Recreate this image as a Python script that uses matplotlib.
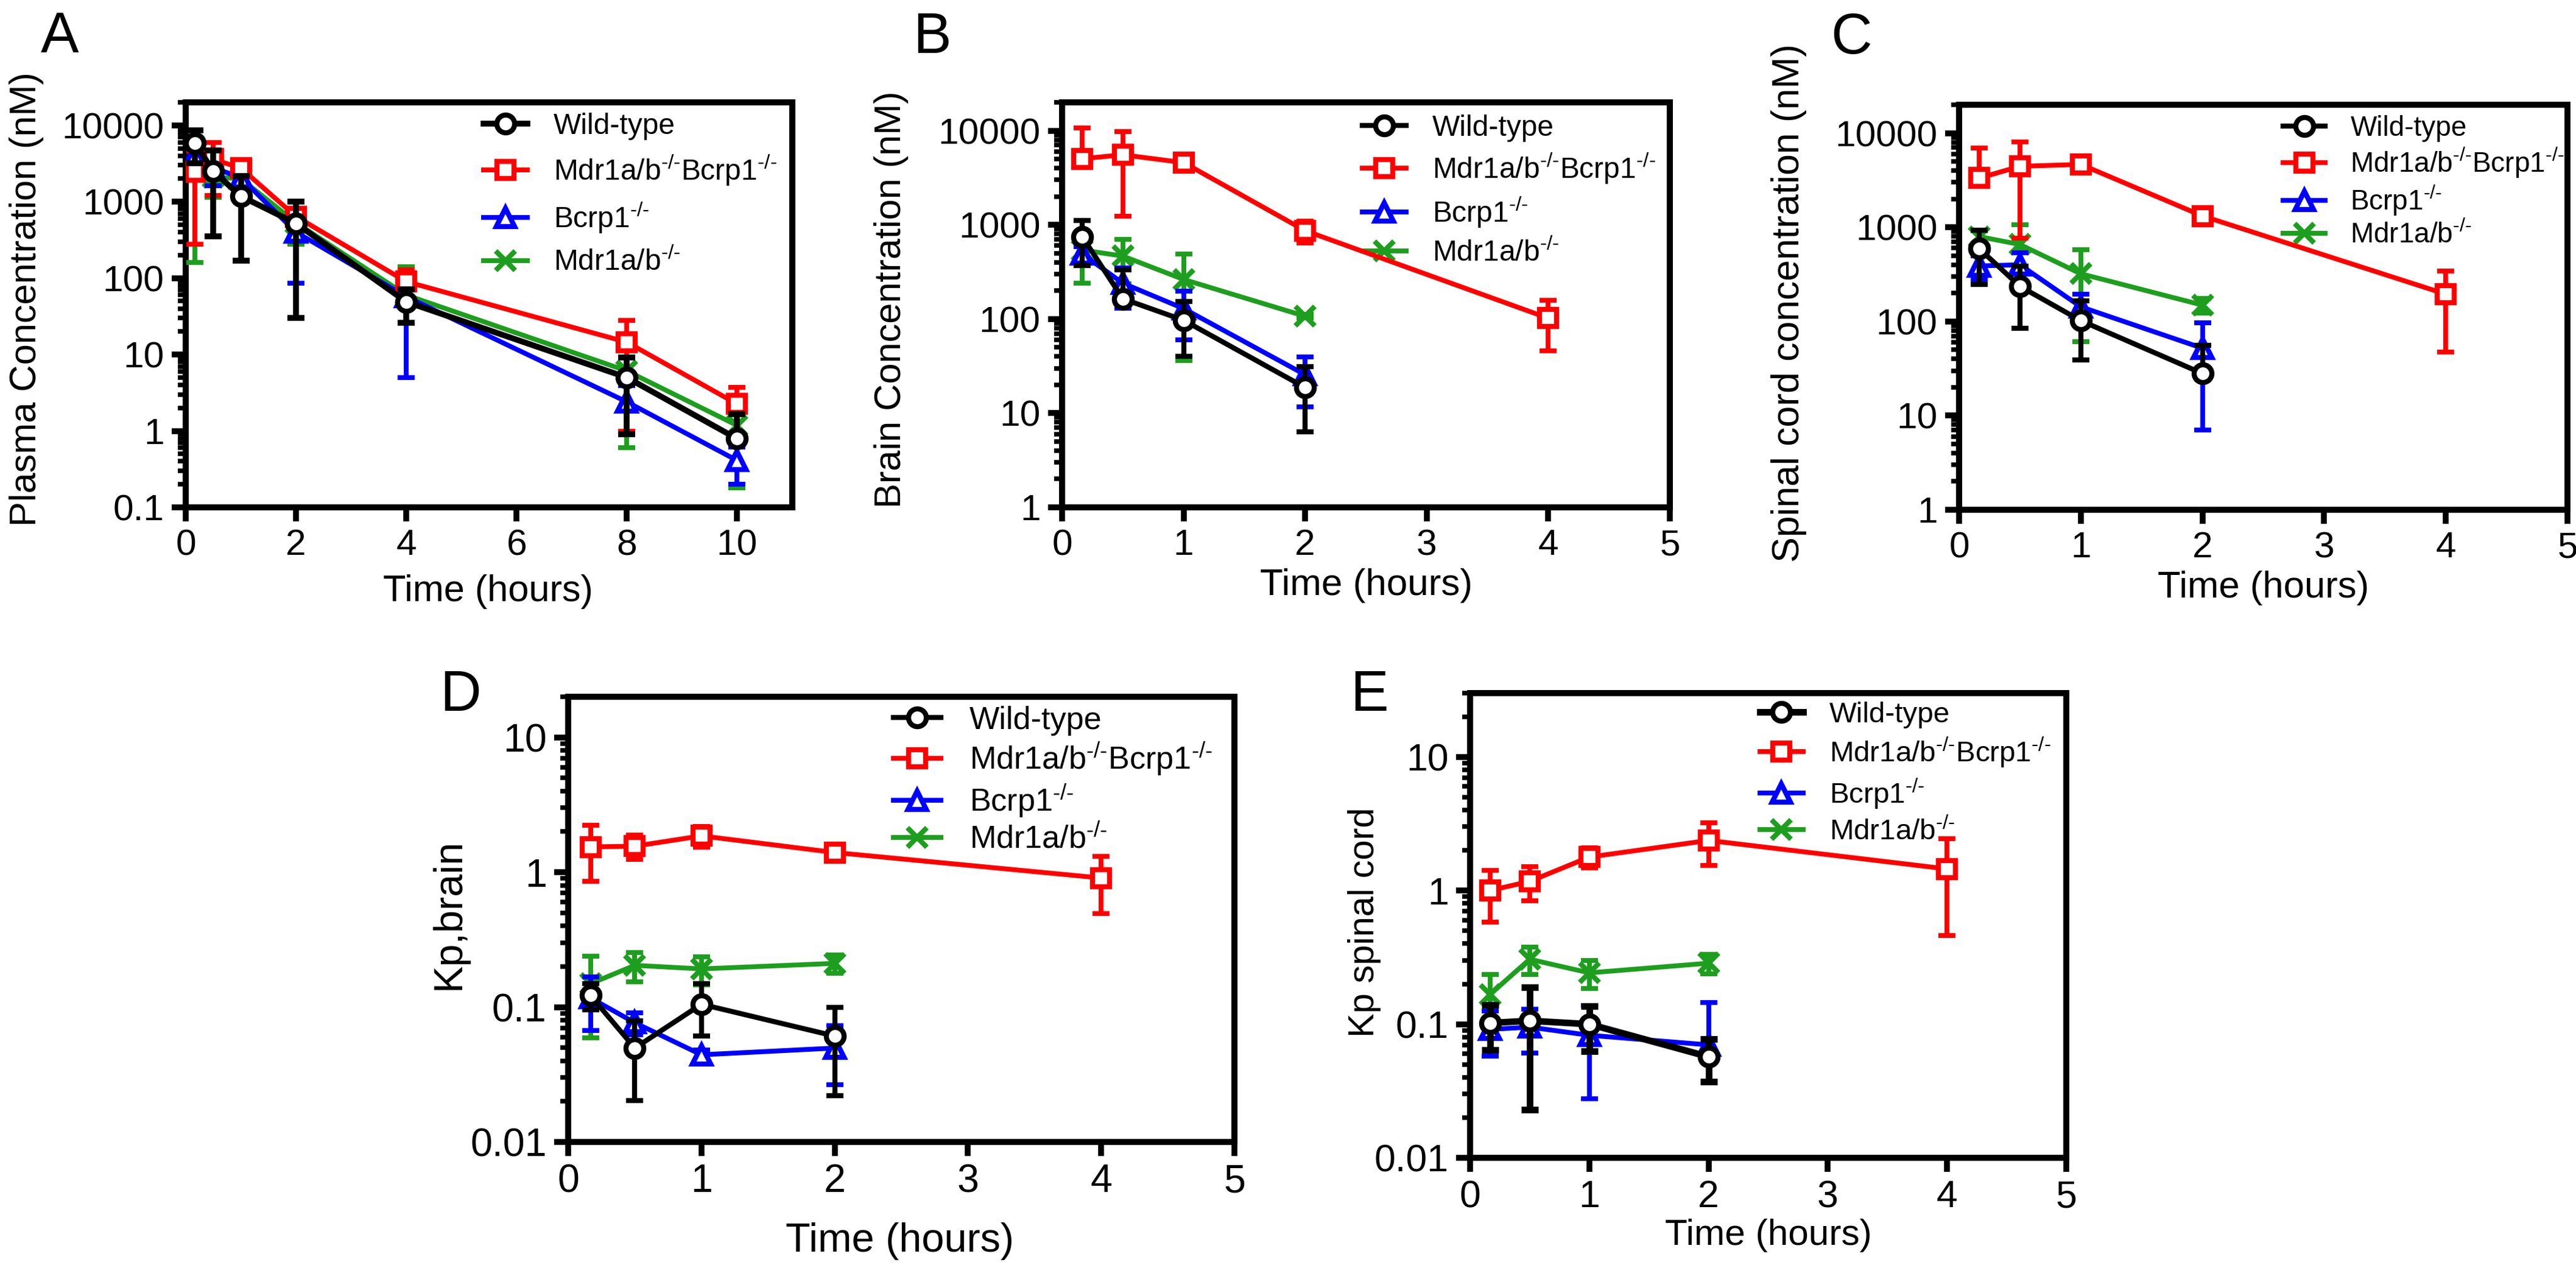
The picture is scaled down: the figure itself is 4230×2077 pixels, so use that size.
import numpy as np
import matplotlib
matplotlib.use('Agg')
import matplotlib.pyplot as plt
from matplotlib.ticker import FixedLocator, LogLocator, NullFormatter, FuncFormatter

plt.rcParams['font.family'] = ['Liberation Sans', 'DejaVu Sans']
plt.rcParams['mathtext.fontset'] = 'custom'
plt.rcParams['mathtext.rm'] = 'Liberation Sans'
plt.rcParams['mathtext.it'] = 'Liberation Sans:italic'
plt.rcParams['mathtext.bf'] = 'Liberation Sans:bold'
plt.rcParams['mathtext.sf'] = 'Liberation Sans'

# ---------------- data ----------------
series_labels = ['Wild-type',
                 r'Mdr1a/b$^{\text{-/-}}$Bcrp1$^{\text{-/-}}$',
                 r'Bcrp1$^{\text{-/-}}$',
                 r'Mdr1a/b$^{\text{-/-}}$']

# Panel A: plasma concentration (nM)
time_A = [0.167, 0.5, 1, 2, 4, 8, 10]
A_wt = [5900, 2500, 1180, 520, 49, 5.0, 0.79]
A_wt_sd = [2700, 2150, 1010, 490, 23, 4.1, 0.88]
A_tko = [2450, 3600, 2750, 640, 90, 14.5, 2.25]
A_tko_sd = [2170, 2400, 400, 130, 38, 13.5, 1.45]
A_bcrp = [4100, 2800, 2050, 400, 57, 2.4, 0.41]
A_bcrp_sd = [1200, 1180, 500, 314, 52, 1.5, 0.21]
A_mdr = [2450, 2100, 2000, 530, 60, 6.1, 1.18]
A_mdr_sd = [2290, 950, 600, 250, 80, 5.5, 1.0]

# Panel B: brain concentration (nM)
time_B_tko = [0.167, 0.5, 1, 2, 4]
time_B = [0.167, 0.5, 1, 2]
B_wt = [745, 164, 97, 18.7]
B_wt_sd = [375, 170, 57, 12.4]
B_tko = [5040, 5540, 4580, 867, 102]
B_tko_sd = [5700, 4300, 500, 230, 56]
B_bcrp = [490, 240, 129, 25.6]
B_bcrp_sd = [100, 110, 69, 14]
B_mdr = [540, 466, 263, 107]
B_mdr_sd = [300, 230, 227, 5]

# Panel C: spinal cord concentration (nM)
time_C_tko = [0.167, 0.5, 1, 2, 4]
time_C = [0.167, 0.5, 1, 2]
C_wt = [591, 236, 102, 28]
C_wt_sd = [345, 152, 63, 28]
C_tko = [3330, 4440, 4650, 1320, 195]
C_tko_sd = [3620, 3670, 400, 150, 148]
C_bcrp = [388, 400, 143, 52]
C_bcrp_sd = [112, 140, 52, 45]
C_mdr = [795, 656, 321, 149]
C_mdr_sd = [120, 400, 260, 27]

# Panel D: Kp, brain
time_D_tko = [0.167, 0.5, 1, 2, 4]
time_D = [0.167, 0.5, 1, 2]
D_wt = [0.122, 0.0497, 0.105, 0.061]
D_wt_sd = [0.027, 0.0295, 0.044, 0.039]
D_tko = [1.54, 1.56, 1.86, 1.40, 0.906]
D_tko_sd = [0.68, 0.32, 0.32, 0.08, 0.41]
D_bcrp = [0.117, 0.0766, 0.0443, 0.0497]
D_bcrp_sd = [0.05, 0.014, 0.004, 0.023]
D_mdr = [0.149, 0.204, 0.192, 0.211]
D_mdr_sd = [0.09, 0.05, 0.045, 0.033]

# Panel E: Kp spinal cord
time_E_tko = [0.167, 0.5, 1, 2, 4]
time_E = [0.167, 0.5, 1, 2]
E_wt = [0.102, 0.106, 0.100, 0.057]
E_wt_sd = [0.038, 0.083, 0.037, 0.02]
E_tko = [1.0, 1.17, 1.78, 2.37, 1.45]
E_tko_sd = [0.42, 0.33, 0.31, 0.83, 0.99]
E_bcrp = [0.0914, 0.095, 0.0826, 0.07]
E_bcrp_sd = [0.034, 0.034, 0.055, 0.076]
E_mdr = [0.167, 0.306, 0.242, 0.286]
E_mdr_sd = [0.068, 0.07, 0.058, 0.047]

yticks_A = [0.1, 1, 10, 100, 1000, 10000]
yticks_BC = [1, 10, 100, 1000, 10000]
yticks_DE = [0.01, 0.1, 1, 10]
xticks_A = [0, 2, 4, 6, 8, 10]
xticks_BE = [0, 1, 2, 3, 4, 5]

# ---------------- styles ----------------
BLACK, RED, BLUE, GREEN = '#000000', '#FF0000', '#0000FF', '#1E9E1E'
W, H = 4230, 2077
fig = plt.figure(figsize=(W / 300, H / 300), dpi=300)


def px_axes(left, top, right, bottom):
    return fig.add_axes([left / W, 1 - bottom / H, (right - left) / W, (bottom - top) / H])


def draw_series(ax, t, mean, sd, color, marker, label, lw=1.9, zorder=3):
    t = np.asarray(t, float)
    mean = np.asarray(mean, float)
    sd = np.asarray(sd, float)
    lower = np.where(mean - sd > 0, sd, 0.0)
    cont = ax.errorbar(t, mean, yerr=[lower, sd], fmt='none', ecolor=color,
                       elinewidth=lw, capsize=3.3, capthick=lw, zorder=zorder)
    for cl in cont.lines[1]:
        yd = np.asarray(cl.get_ydata(), float)
        cl.set_ydata(np.where(np.isclose(yd, mean), np.nan, yd))
    face = 'none' if marker == 'x' else 'white'
    ms = {'o': 7.0, 's': 6.6, '^': 7.2, 'x': 7.6}[marker]
    line, = ax.plot(t, mean, color=color, lw=lw, marker=marker, ms=ms, mfc=face,
                    mec=color, mew=2.0, zorder=zorder + 0.5, label=label)
    return line


def setup(ax, xlim, xticks, ylim, yticks, xlabel, ylabel, xl_pos, yl_pos,
          tick_fs=14.5, xl_fs=14.7, yl_fs=14.7):
    ax.set_yscale('log')
    ax.set_xlim(*xlim)
    ax.set_ylim(*ylim)
    ax.set_xticks(xticks)
    ax.yaxis.set_major_locator(FixedLocator(yticks))
    ax.yaxis.set_major_formatter(FuncFormatter(lambda v, p: f'{v:g}'))
    ax.yaxis.set_minor_locator(LogLocator(base=10, subs=np.arange(2, 10), numticks=30))
    ax.yaxis.set_minor_formatter(NullFormatter())
    for s in ax.spines.values():
        s.set_linewidth(2.4)
    ax.tick_params(which='major', direction='out', width=2.3, length=5.5,
                   labelsize=tick_fs, pad=3, top=False, right=False)
    ax.tick_params(which='minor', direction='out', width=1.8, length=3.2,
                   top=False, right=False)
    ax.set_xlabel(xlabel, fontsize=xl_fs)
    ax.set_ylabel(ylabel, fontsize=yl_fs)
    ax.xaxis.set_label_coords(*xl_pos)
    ax.yaxis.set_label_coords(*yl_pos)


def panel(ax, tw, t_tko, wt, wt_sd, tko, tko_sd, bcrp, bcrp_sd, mdr, mdr_sd,
          leg_anchor, leg_fs, leg_sp, black_lw=2.0):
    h_mdr = draw_series(ax, tw, mdr, mdr_sd, GREEN, 'x', series_labels[3], zorder=3)
    h_bcrp = draw_series(ax, tw, bcrp, bcrp_sd, BLUE, '^', series_labels[2], zorder=4)
    h_tko = draw_series(ax, t_tko, tko, tko_sd, RED, 's', series_labels[1], zorder=5)
    h_wt = draw_series(ax, tw, wt, wt_sd, BLACK, 'o', series_labels[0], lw=black_lw, zorder=6)
    ax.legend([h_wt, h_tko, h_bcrp, h_mdr], series_labels, loc='upper left',
              bbox_to_anchor=leg_anchor, frameon=False, fontsize=leg_fs,
              borderpad=0, borderaxespad=0, handlelength=1.5, handletextpad=0.9,
              labelspacing=leg_sp)


# Panel A
axA = px_axes(305, 168, 1301, 833)
panel(axA, time_A, time_A, A_wt, A_wt_sd, A_tko, A_tko_sd, A_bcrp, A_bcrp_sd,
      A_mdr, A_mdr_sd, (0.491, 0.975), 11.5, 0.45, black_lw=2.3)
setup(axA, (0, 11), xticks_A, (0.1, 20000), yticks_A, 'Time (hours)',
      'Plasma Concentration (nM)', (0.498, -0.165), (-0.234, 0.514))

# Panel B
axB = px_axes(1744, 168, 2742, 833)
panel(axB, time_B, time_B_tko, B_wt, B_wt_sd, B_tko, B_tko_sd, B_bcrp, B_bcrp_sd,
      B_mdr, B_mdr_sd, (0.494, 0.97), 11.5, 0.32)
setup(axB, (0, 5), xticks_BE, (1, 20000), yticks_BC, 'Time (hours)',
      'Brain Concentration (nM)', (0.501, -0.15), (-0.2525, 0.513), xl_fs=14.9)

# Panel C
axC = px_axes(3217, 172, 4216, 837)
panel(axC, time_C, time_C_tko, C_wt, C_wt_sd, C_tko, C_tko_sd, C_bcrp, C_bcrp_sd,
      C_mdr, C_mdr_sd, (0.533, 0.975), 11.0, 0.15)
setup(axC, (0, 5), xticks_BE, (1, 20000), yticks_BC, 'Time (hours)',
      'Spinal cord concentration (nM)', (0.5, -0.15), (-0.25, 0.51),
      xl_fs=14.8, yl_fs=15)

# Panel D
axD = px_axes(933, 1144, 2027, 1875)
panel(axD, time_D, time_D_tko, D_wt, D_wt_sd, D_tko, D_tko_sd, D_bcrp, D_bcrp_sd,
      D_mdr, D_mdr_sd, (0.488, 0.98), 12.5, 0.15)
setup(axD, (0, 5), xticks_BE, (0.01, 20), yticks_DE, 'Time (hours)',
      'Kp,brain', (0.498, -0.18), (-0.15, 0.512), tick_fs=15.5, xl_fs=16, yl_fs=16)

# Panel E
axE = px_axes(2414, 1138, 3393, 1901)
panel(axE, time_E, time_E_tko, E_wt, E_wt_sd, E_tko, E_tko_sd, E_bcrp, E_bcrp_sd,
      E_mdr, E_mdr_sd, (0.486, 0.982), 11.4, 0.25, black_lw=2.6)
setup(axE, (0, 5), xticks_BE, (0.01, 30), yticks_DE, 'Time (hours)',
      'Kp spinal cord', (0.5, -0.131), (-0.149, 0.507), tick_fs=15, xl_fs=14.5,
      yl_fs=14.3)

# panel letters
for letter, x, base in [('A', 67, 86), ('B', 1499, 87), ('C', 3006, 88),
                        ('D', 722, 1167), ('E', 2217, 1167)]:
    fig.text(x / W, 1 - base / H, letter, fontsize=22.5, ha='left', va='baseline')

fig.savefig('out.png', dpi=300)
